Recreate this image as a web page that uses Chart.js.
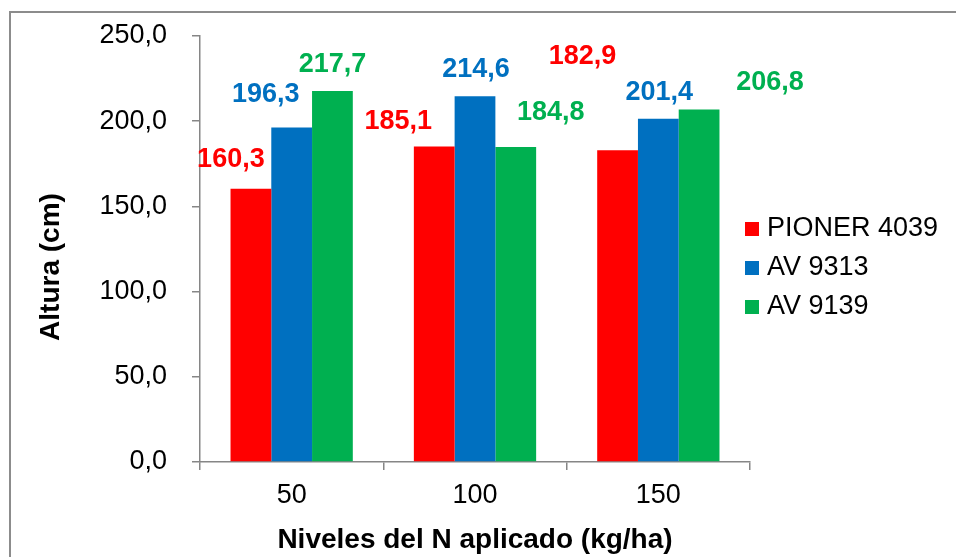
<!DOCTYPE html>
<html>
<head>
<meta charset="utf-8">
<script src="https://cdn.jsdelivr.net/npm/chart.js@4.4.1/dist/chart.umd.min.js"></script>
<style>
html, body { margin: 0; padding: 0; background: #fff; }
#wrap { position: relative; width: 956px; height: 557px; overflow: hidden; }
#frame { position: absolute; left: 9px; top: 11px; width: 1000px; height: 600px;
         border-left: 2px solid #8c8c8c; border-top: 2px solid #8c8c8c; }
canvas { position: absolute; left: 0; top: 0; }
</style>
</head>
<body>
<div id="wrap">
  <div id="frame"></div>
  <canvas id="altura" width="956" height="557"></canvas>
</div>
<script>
var niveles = ["50", "100", "150"];
var seriesNames = ["PIONER 4039", "AV 9313", "AV 9139"];
var pioner4039 = [160.3, 185.1, 182.9];
var av9313 = [196.3, 214.6, 201.4];
var av9139 = [217.7, 184.8, 206.8];
var yMin = 0, yMax = 250, yStep = 50;

var colors = ["#FF0000", "#0070C0", "#00B050"];
var FONT = "'Liberation Sans', Arial, sans-serif";

function coma(v){
    return Number(v).toFixed(1).replace(".", ",");
}

// nudges of the value labels, relative to the top of each bar [dx, dy]
var labelNudge = [
    [[-20, -29], [-36, -25], [-35, -94]],
    [[-26, -33], [1, -27], [1, -26]],
    [[0, -26], [35, -35], [71, -27]]
];

var valueLabels = {
    id: "valueLabels",
    afterDatasetsDraw: function(chart){
        var ctx = chart.ctx;
        ctx.save();
        ctx.font = "bold 27px " + FONT;
        ctx.textAlign = "center";
        ctx.textBaseline = "middle";
        chart.data.datasets.forEach(function(ds, i){
            chart.getDatasetMeta(i).data.forEach(function(bar, j){
                var n = labelNudge[i][j];
                ctx.fillStyle = colors[i];
                ctx.fillText(coma(ds.data[j]), bar.x + n[0], bar.y + n[1]);
            });
        });
        ctx.restore();
    }
};

var sideLegend = {
    id: "sideLegend",
    afterDraw: function(chart){
        var ctx = chart.ctx;
        ctx.save();
        ctx.font = "27px " + FONT;
        ctx.textBaseline = "middle";
        ctx.textAlign = "left";
        chart.data.datasets.forEach(function(ds, i){
            var y = 229 + i * 39;
            ctx.fillStyle = ds.backgroundColor;
            ctx.fillRect(745, y - 7, 14, 14);
            ctx.fillStyle = "#000";
            ctx.fillText(ds.label, 767, y);
        });
        ctx.restore();
    }
};

var yTitle = {
    id: "yTitle",
    afterDraw: function(chart){
        var ctx = chart.ctx;
        ctx.save();
        ctx.translate(51, 267);
        ctx.rotate(-Math.PI / 2);
        ctx.font = "bold 28px " + FONT;
        ctx.fillStyle = "#000";
        ctx.textAlign = "center";
        ctx.textBaseline = "middle";
        ctx.fillText("Altura (cm)", 0, 0);
        ctx.restore();
    }
};

var ctx = document.getElementById("altura");
new Chart(ctx, {
    type: "bar",
    data: {
        labels: niveles,
        datasets: [
            { label: seriesNames[0], data: pioner4039, backgroundColor: colors[0] },
            { label: seriesNames[1], data: av9313, backgroundColor: colors[1] },
            { label: seriesNames[2], data: av9139, backgroundColor: colors[2] }
        ]
    },
    options: {
        responsive: false,
        animation: false,
        devicePixelRatio: 1,
        categoryPercentage: 0.667,
        barPercentage: 1,
        layout: { padding: { top: 36, right: 206, left: 0, bottom: 0 } },
        plugins: {
            legend: { display: false },
            tooltip: { enabled: false }
        },
        scales: {
            x: {
                grid: { offset: true, drawOnChartArea: false, drawTicks: true, tickLength: 8,
                        color: "#868686", lineWidth: 1.5 },
                border: { color: "#868686", width: 1.5 },
                ticks: { color: "#000", padding: 9, font: { family: FONT, size: 27 } },
                title: { display: true, text: "Niveles del N aplicado (kg/ha)", color: "#000",
                         padding: { top: 6, bottom: 0 },
                         font: { family: FONT, size: 28, weight: "bold" } },
                afterFit: function(scale){ scale.height = 95; }
            },
            y: {
                min: yMin, max: yMax,
                grid: { drawOnChartArea: false, drawTicks: true, tickLength: 8,
                        color: "#868686", lineWidth: 1.5 },
                border: { color: "#868686", width: 1.5 },
                ticks: { stepSize: yStep, color: "#000", padding: 25,
                         font: { family: FONT, size: 27 },
                         callback: function(v){ return coma(v); } },
                afterFit: function(scale){
                    scale.width = 200;
                    scale.paddingTop = 0;
                    scale.paddingBottom = 0;
                }
            }
        }
    },
    plugins: [valueLabels, sideLegend, yTitle]
});
</script>
</body>
</html>
